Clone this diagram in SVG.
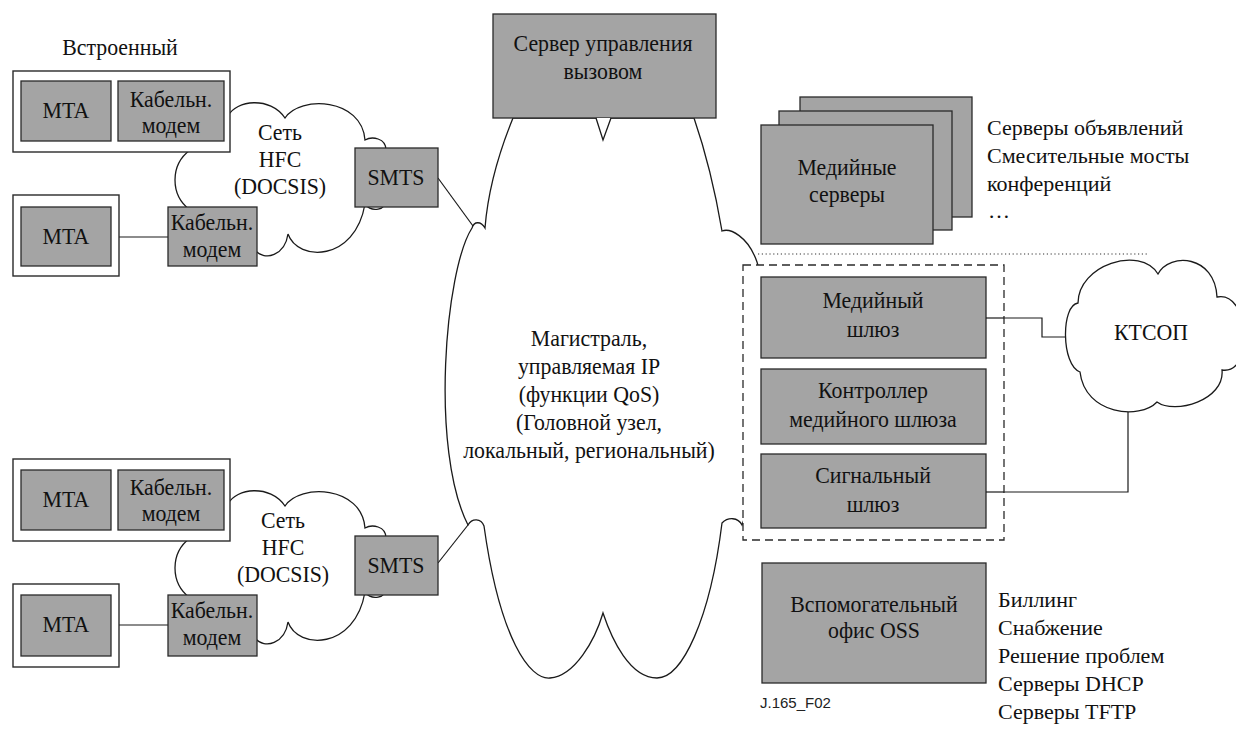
<svg xmlns="http://www.w3.org/2000/svg" width="1236" height="737" viewBox="0 0 1236 737">
  <style>
    .box { fill: #a4a4a4; stroke: #2a2a2a; stroke-width: 1.3; }
    .frame { fill: #ffffff; stroke: #2a2a2a; stroke-width: 1.4; }
    .cloud { fill: #ffffff; stroke: #1a1a1a; stroke-width: 1.3; }
    text { font-family: 'Liberation Serif', 'Times New Roman', serif; fill: #111; }
    .lbl { font-size: 24px; text-anchor: middle; transform-box: fill-box; transform-origin: center; transform: scaleX(0.91); }
    .list { font-size: 22px; }
    .ref { font-family: 'Liberation Sans', Arial, sans-serif; font-size: 15px; fill: #222; }
    .wire { fill: none; stroke: #1a1a1a; stroke-width: 1.2; }
  </style>
  <defs>
    <!-- HFC access cloud outline, drawn at the upper position -->
    <path id="hfcCloud" d="M 190,150 C 170,165 170,195 190,210 L 255,250 C 265,262 285,255 288,234 C 298,262 355,262 365,204 C 372,213 386,210 386,200 L 386,150 C 386,138 372,136 365,140 C 362,98 300,95 285,118 C 270,96 236,100 228,116 Z"/>
  </defs>

  <!-- managed IP backbone cloud -->
  <g id="backbone">
    <path class="cloud" d="M 513,118 C 500,150 488,190 485,228 C 481,221 474,221 472,228 C 445,270 430,450 468,525 C 472,518 481,518 484,526 C 500,640 530,680 550,678 C 575,676 595,640 603,613 C 612,640 630,678 657,678 C 682,678 710,620 722,523 C 728,517 738,517 742,525 C 770,450 775,320 757,262 C 748,236 730,228 722,231 C 715,190 705,150 694,118 Z"/>
    <text class="lbl" x="589" y="346">Магистраль,</text>
    <text class="lbl" x="589" y="374">управляемая IP</text>
    <text class="lbl" x="589" y="402">(функции QoS)</text>
    <text class="lbl" x="589" y="430">(Головной узел,</text>
    <text class="lbl" x="589" y="458">локальный, региональный)</text>
  </g>

  <!-- connectors -->
  <g id="connectors">
    <line class="wire" x1="119" y1="237" x2="168" y2="237"/>
    <line class="wire" x1="119" y1="625" x2="168" y2="625"/>
    <line class="wire" x1="438" y1="178" x2="473" y2="226"/>
    <line class="wire" x1="438" y1="563" x2="468" y2="525"/>
    <polyline class="wire" points="986,318 1042,318 1042,337 1068,337"/>
    <polyline class="wire" points="986,492 1128,492 1128,412"/>
    <line x1="758" y1="254" x2="1147" y2="254" stroke="#333" stroke-width="1.2" stroke-dasharray="1.2,2.6"/>
  </g>

  <!-- call management server -->
  <g id="call-server">
    <rect class="box" x="493" y="14" width="223" height="104"/>
    <path class="cloud" d="M 596,118 L 603,140 L 611,118"/>
    <text class="lbl" x="603" y="51">Сервер управления</text>
    <text class="lbl" x="603" y="79">вызовом</text>
  </g>

  <!-- upper HFC access network -->
  <g id="hfc-upper">
    <use href="#hfcCloud" class="cloud"/>
    <text class="lbl" x="280" y="140">Сеть</text>
    <text class="lbl" x="280" y="167">HFC</text>
    <text class="lbl" x="280" y="194">(DOCSIS)</text>
  </g>
  <g id="embedded-upper">
    <text class="lbl" x="120" y="55">Встроенный</text>
    <rect class="frame" x="13" y="71" width="217" height="81"/>
    <rect class="box" x="21" y="81" width="90" height="60"/>
    <text class="lbl" x="66" y="118">MTA</text>
    <rect class="box" x="118" y="81" width="106" height="60"/>
    <text class="lbl" x="171" y="107">Кабельн.</text>
    <text class="lbl" x="171" y="133">модем</text>
  </g>
  <g id="mta-upper">
    <rect class="frame" x="13" y="195" width="106" height="81"/>
    <rect class="box" x="21" y="207" width="90" height="59"/>
    <text class="lbl" x="66" y="244">MTA</text>
  </g>
  <g id="modem-upper">
    <rect class="box" x="168" y="207" width="89" height="59"/>
    <text class="lbl" x="212" y="230">Кабельн.</text>
    <text class="lbl" x="212" y="257">модем</text>
  </g>
  <g id="smts-upper">
    <rect class="box" x="355" y="148" width="83" height="59"/>
    <text class="lbl" x="396" y="185">SMTS</text>
  </g>

  <!-- lower HFC access network -->
  <g id="hfc-lower">
    <use href="#hfcCloud" class="cloud" transform="translate(0,388)"/>
    <text class="lbl" x="283" y="528">Сеть</text>
    <text class="lbl" x="283" y="555">HFC</text>
    <text class="lbl" x="283" y="582">(DOCSIS)</text>
  </g>
  <g id="embedded-lower">
    <rect class="frame" x="13" y="459" width="217" height="82"/>
    <rect class="box" x="21" y="470" width="90" height="60"/>
    <text class="lbl" x="66" y="507">MTA</text>
    <rect class="box" x="118" y="470" width="106" height="60"/>
    <text class="lbl" x="171" y="495">Кабельн.</text>
    <text class="lbl" x="171" y="521">модем</text>
  </g>
  <g id="mta-lower">
    <rect class="frame" x="13" y="584" width="106" height="83"/>
    <rect class="box" x="21" y="595" width="90" height="61"/>
    <text class="lbl" x="66" y="632">MTA</text>
  </g>
  <g id="modem-lower">
    <rect class="box" x="168" y="595" width="89" height="61"/>
    <text class="lbl" x="212" y="618">Кабельн.</text>
    <text class="lbl" x="212" y="645">модем</text>
  </g>
  <g id="smts-lower">
    <rect class="box" x="355" y="536" width="83" height="59"/>
    <text class="lbl" x="396" y="573">SMTS</text>
  </g>

  <!-- media server stack -->
  <g id="media-servers">
    <rect class="box" x="800" y="97" width="172" height="120"/>
    <rect class="box" x="779" y="111" width="173" height="119"/>
    <rect class="box" x="761" y="125" width="172" height="119"/>
    <text class="lbl" x="847" y="175">Медийные</text>
    <text class="lbl" x="847" y="202">серверы</text>
  </g>
  <g id="media-server-notes">
    <text class="list" x="987" y="135">Серверы объявлений</text>
    <text class="list" x="987" y="163">Смесительные мосты</text>
    <text class="list" x="987" y="191">конференций</text>
    <text class="list" x="988" y="218">…</text>
  </g>

  <!-- PSTN gateway group -->
  <g id="gateway-group">
    <rect x="743" y="265" width="261" height="275" fill="#ffffff" stroke="#2a2a2a" stroke-width="1.3" stroke-dasharray="8,5"/>
  </g>
  <g id="media-gateway">
    <rect class="box" x="761" y="277" width="225" height="81"/>
    <text class="lbl" x="873" y="308">Медийный</text>
    <text class="lbl" x="873" y="337">шлюз</text>
  </g>
  <g id="mg-controller">
    <rect class="box" x="761" y="369" width="225" height="75"/>
    <text class="lbl" x="873" y="398">Контроллер</text>
    <text class="lbl" x="873" y="427">медийного шлюза</text>
  </g>
  <g id="signaling-gateway">
    <rect class="box" x="761" y="454" width="225" height="74"/>
    <text class="lbl" x="873" y="483">Сигнальный</text>
    <text class="lbl" x="873" y="512">шлюз</text>
  </g>
  <line class="wire" x1="986" y1="318" x2="1004" y2="318"/>
  <line class="wire" x1="986" y1="492" x2="1004" y2="492"/>

  <!-- PSTN cloud -->
  <g id="pstn">
    <path class="cloud" d="M 1078,303 C 1078,265 1140,245 1158,274 C 1170,252 1215,255 1217,297 C 1250,290 1255,375 1222,370 C 1225,400 1175,415 1157,402 C 1140,420 1085,415 1080,372 C 1061,365 1061,305 1078,303 Z"/>
    <text class="lbl" x="1151" y="340">КТСОП</text>
  </g>

  <!-- operations support back office -->
  <g id="oss">
    <rect class="box" x="762" y="563" width="224" height="120"/>
    <text class="lbl" x="874" y="612">Вспомогательный</text>
    <text class="lbl" x="874" y="638">офис OSS</text>
  </g>
  <g id="oss-notes">
    <text class="list" x="998" y="607">Биллинг</text>
    <text class="list" x="998" y="635">Снабжение</text>
    <text class="list" x="998" y="663">Решение проблем</text>
    <text class="list" x="998" y="691">Серверы DHCP</text>
    <text class="list" x="998" y="719">Серверы TFTP</text>
  </g>
  <text class="ref" x="760" y="708">J.165_F02</text>
</svg>
